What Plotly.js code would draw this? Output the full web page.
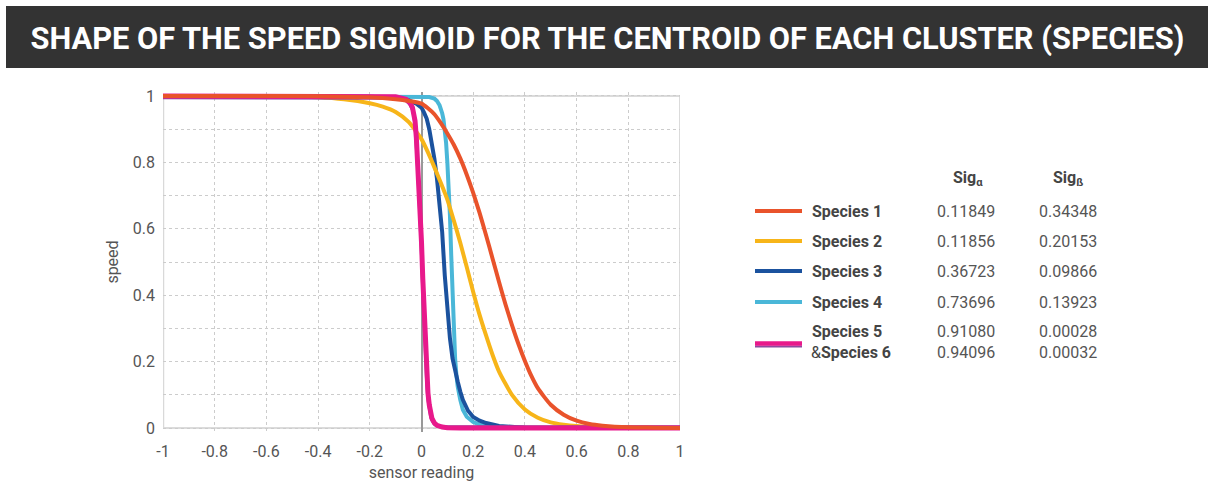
<!DOCTYPE html>
<html>
<head>
<meta charset="utf-8">
<script src="https://cdn.plot.ly/plotly-3.0.1.min.js"></script>
<style>
html,body{margin:0;padding:0;background:#fff;}
#chart{width:1215px;height:483px;}
</style>
</head>
<body>
<div id="chart"></div>
<script>
// ---- data ----
const chartTitle = "SHAPE OF THE SPEED SIGMOID FOR THE CENTROID OF EACH CLUSTER (SPECIES)";
const xAxisTitle = "sensor reading";
const yAxisTitle = "speed";

const xTickVals = [-1, -0.8, -0.6, -0.4, -0.2, 0, 0.2, 0.4, 0.6, 0.8, 1];
const xTickText = ["-1", "-0.8", "-0.6", "-0.4", "-0.2", "0", "0.2", "0.4", "0.6", "0.8", "1"];

const species1X = [-1,-0.6,-0.4,-0.3,-0.2,-0.1,-0.05,0,0.025,0.05,0.075,0.1,0.125,0.15,0.175,0.2,0.225,0.25,0.275,0.3,0.325,0.35,0.375,0.4,0.425,0.45,0.5,0.55,0.6,0.65,0.7,0.8,0.9,1];
const species1Y = [1,1,0.999,0.998,0.996,0.99,0.985,0.977,0.963,0.945,0.918,0.887,0.853,0.812,0.763,0.708,0.647,0.58,0.51,0.44,0.372,0.31,0.253,0.202,0.157,0.12,0.07,0.04,0.022,0.012,0.007,0.002,0.001,0];

const species2X = [-1,-0.6,-0.4,-0.3,-0.2,-0.15,-0.1,-0.05,0,0.025,0.05,0.075,0.1,0.125,0.15,0.175,0.2,0.225,0.25,0.275,0.3,0.35,0.4,0.45,0.5,0.55,0.6,0.7,0.8,1];
const species2Y = [1,0.999,0.996,0.99,0.978,0.968,0.952,0.922,0.87,0.83,0.785,0.738,0.688,0.625,0.558,0.485,0.41,0.34,0.278,0.22,0.17,0.1,0.056,0.031,0.017,0.01,0.006,0.002,0.001,0];

const species3X = [-1,-0.4,-0.2,-0.1,-0.05,-0.02,0,0.01,0.02,0.03,0.04,0.05,0.06,0.07,0.08,0.09,0.1,0.11,0.12,0.13,0.14,0.15,0.16,0.18,0.2,0.225,0.25,0.3,0.35,0.4,1];
const species3Y = [1,1,0.998,0.994,0.987,0.977,0.965,0.95,0.932,0.9,0.86,0.81,0.75,0.68,0.59,0.46,0.345,0.27,0.21,0.17,0.14,0.11,0.085,0.052,0.033,0.022,0.015,0.006,0.002,0.001,0];

const species4X = [-1,0,0.03,0.05,0.06,0.07,0.075,0.08,0.085,0.09,0.095,0.1,0.105,0.11,0.115,0.12,0.125,0.13,0.135,0.14,0.15,0.16,0.175,0.2,0.225,0.25,0.3,0.4,1];
const species4Y = [1,0.999,0.997,0.992,0.985,0.972,0.962,0.948,0.93,0.9,0.86,0.8,0.73,0.64,0.52,0.4,0.3,0.21,0.16,0.125,0.085,0.055,0.034,0.018,0.01,0.006,0.002,0,0];

const species5X = [-1,-0.2,-0.1,-0.06,-0.045,-0.035,-0.03,-0.025,-0.02,-0.015,-0.01,-0.005,0,0.005,0.01,0.015,0.02,0.025,0.03,0.035,0.04,0.05,0.06,0.08,0.1,0.15,1];
const species5Y = [1,1,0.998,0.99,0.98,0.965,0.95,0.925,0.875,0.81,0.735,0.66,0.56,0.45,0.35,0.245,0.16,0.105,0.07,0.045,0.03,0.015,0.008,0.003,0.001,0,0];

const species6X = [-1,-0.2,-0.1,-0.06,-0.045,-0.035,-0.03,-0.025,-0.02,-0.015,-0.01,-0.005,0,0.005,0.01,0.015,0.02,0.025,0.03,0.035,0.04,0.05,0.06,0.08,0.1,0.15,1];
const species6Y = [0.995,0.995,0.993,0.986,0.975,0.958,0.94,0.91,0.855,0.78,0.7,0.62,0.52,0.41,0.31,0.21,0.135,0.085,0.055,0.035,0.023,0.011,0.006,0.004,0.004,0.004,0.004];

const speciesNames = ["Species 1", "Species 2", "Species 3", "Species 4", "Species 5", "&<b>Species 6</b>"];
const sigAlpha = ["0.11849", "0.11856", "0.36723", "0.73696", "0.91080", "0.94096"];
const sigBeta  = ["0.34348", "0.20153", "0.09866", "0.13923", "0.00028", "0.00032"];
const sigAlphaHeader = "Sig<sub>α</sub>";
const sigBetaHeader = "Sig<sub>ß</sub>";

// ---- styling ----
const colors = {
  s1: "#E9532B", s2: "#F7B519", s3: "#1B529E", s4: "#4AB7D8", s5: "#E8198B", s6: "#8E4A9E"
};
const tickFont = {family: "Roboto, 'Open Sans', sans-serif", size: 16, color: "#555"};

// plot-area pixel geometry
const L = 163, R = 680, T = 92, B = 432;
const px = x => (x - L) / (R - L);
const py = y => (B - y) / (B - T);

const traces = [
  {x: species4X, y: species4Y, name: "Species 4", line: {color: colors.s4, width: 4}},
  {x: species3X, y: species3Y, name: "Species 3", line: {color: colors.s3, width: 4}},
  {x: species2X, y: species2Y, name: "Species 2", line: {color: colors.s2, width: 4, shape: "spline", smoothing: 0.6}},
  {x: species6X, y: species6Y, name: "Species 6", line: {color: colors.s6, width: 3}},
  {x: species5X, y: species5Y, name: "Species 5", line: {color: colors.s5, width: 5}},
  {x: species1X, y: species1Y, name: "Species 1", line: {color: colors.s1, width: 4, shape: "spline", smoothing: 0.6}}
].map(t => Object.assign({type: "scatter", mode: "lines", hoverinfo: "skip"}, t));

const shapes = [
  // title banner
  {type: "rect", xref: "paper", yref: "paper", x0: px(6), x1: px(1208), y0: py(68), y1: py(6),
   fillcolor: "#333333", line: {width: 0}, layer: "below"},
  // plot frame
  {type: "rect", xref: "x", yref: "y", x0: -1, x1: 1, y0: 0, y1: 1,
   line: {color: "#cfcfcf", width: 1.5}, layer: "below"},
  {type: "line", xref: "x", yref: "y", x0: -1, x1: -1, y0: 0, y1: 1,
   line: {color: "#d9d9d9", width: 2.5}, layer: "below"}
];

const annotations = [];
const rowY = [211, 241, 271, 302, 331, 352];
const lineColors = [colors.s1, colors.s2, colors.s3, colors.s4];
// legend line samples
for (let i = 0; i < 4; i++) {
  shapes.push({type: "line", xref: "paper", yref: "paper", x0: px(755), x1: px(802), y0: py(rowY[i]), y1: py(rowY[i]),
    line: {color: lineColors[i], width: 4}});
}
shapes.push({type: "line", xref: "paper", yref: "paper", x0: px(755), x1: px(802), y0: py(346.5), y1: py(346.5),
  line: {color: colors.s6, width: 2}});
shapes.push({type: "line", xref: "paper", yref: "paper", x0: px(755), x1: px(802), y0: py(343.5), y1: py(343.5),
  line: {color: colors.s5, width: 4.5}});

const labelFont = {family: "Roboto, 'Open Sans', sans-serif", size: 16, color: "#444"};
const valueFont = {family: "Roboto, 'Open Sans', sans-serif", size: 16, color: "#555"};
for (let i = 0; i < 6; i++) {
  const isAmp = i === 5;
  annotations.push({xref: "paper", yref: "paper", x: px(isAmp ? 809 : 810), y: py(rowY[i]),
    xanchor: "left", yanchor: "middle", showarrow: false,
    text: isAmp ? speciesNames[i] : "<b>" + speciesNames[i] + "</b>", font: labelFont});
  annotations.push({xref: "paper", yref: "paper", x: px(935), y: py(rowY[i]),
    xanchor: "left", yanchor: "middle", showarrow: false, text: sigAlpha[i], font: valueFont});
  annotations.push({xref: "paper", yref: "paper", x: px(1037), y: py(rowY[i]),
    xanchor: "left", yanchor: "middle", showarrow: false, text: sigBeta[i], font: valueFont});
}
annotations.push({xref: "paper", yref: "paper", x: px(951), y: py(178),
  xanchor: "left", yanchor: "middle", showarrow: false, text: "<b>" + sigAlphaHeader + "</b>", font: labelFont});
annotations.push({xref: "paper", yref: "paper", x: px(1051), y: py(178),
  xanchor: "left", yanchor: "middle", showarrow: false, text: "<b>" + sigBetaHeader + "</b>", font: labelFont});

const layout = {
  width: 1215, height: 483,
  margin: {l: L, r: 1215 - R, t: T, b: 483 - B, pad: 0},
  paper_bgcolor: "#ffffff", plot_bgcolor: "#ffffff",
  showlegend: false,
  title: {text: "<b>" + chartTitle + "</b>", x: 0.5, xref: "container", xanchor: "center",
          y: 1 - 38 / 483, yref: "container", yanchor: "middle",
          font: {family: "Roboto, 'Open Sans', sans-serif", size: 30.8, color: "#ffffff"}},
  xaxis: {
    range: [-1, 1], tickvals: xTickVals, ticktext: xTickText,
    showgrid: true, gridcolor: "#cccccc", griddash: "dot", gridwidth: 1,
    zeroline: true, zerolinecolor: "#999999", zerolinewidth: 2,
    showline: false, ticks: "", ticklabelstandoff: 8,
    tickfont: tickFont,
    title: {text: xAxisTitle, font: tickFont, standoff: 6}
  },
  yaxis: {
    range: [-0.012, 1.012], tick0: 0, dtick: 0.2,
    showgrid: true, gridcolor: "#cccccc", griddash: "dot", gridwidth: 1,
    minor: {dtick: 0.1, showgrid: true, gridcolor: "#cccccc", griddash: "dot", gridwidth: 1},
    zeroline: false, showline: false, ticks: "", ticklabelstandoff: 7,
    tickfont: tickFont,
    title: {text: yAxisTitle, font: tickFont, standoff: 10}
  },
  shapes: shapes,
  annotations: annotations
};

Plotly.newPlot("chart", traces, layout, {displayModeBar: false, staticPlot: true});
</script>
</body>
</html>
